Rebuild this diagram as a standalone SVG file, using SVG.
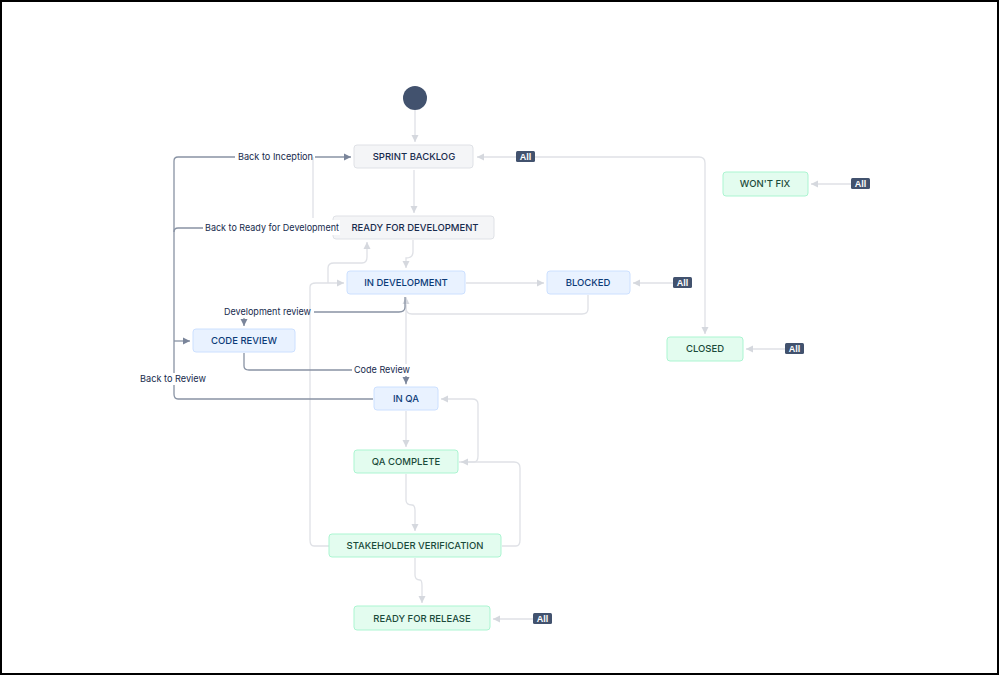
<svg xmlns="http://www.w3.org/2000/svg" width="999" height="675" viewBox="0 0 999 675">
<defs>
<marker id="al" markerWidth="8" markerHeight="8" refX="7" refY="4" orient="auto" markerUnits="userSpaceOnUse"><path d="M0,0.5 L7,4 L0,7.5 Z" fill="#d5d8de"/></marker>
<marker id="ad" markerWidth="8" markerHeight="8" refX="7" refY="4" orient="auto" markerUnits="userSpaceOnUse"><path d="M0,0.5 L7,4 L0,7.5 Z" fill="#7a859a"/></marker>
<style>
.g rect{fill:#f4f5f7;stroke:#dfe1e6}
.b rect{fill:#e9f2ff;stroke:#cce0ff}
.gr rect{fill:#e3fcef;stroke:#abf5d1}
.n text{font-family:Inter,"Liberation Sans",Arial,sans-serif;font-size:9.5px;font-weight:500;text-anchor:middle;fill:#172b4d}
.b text{fill:#0c3b78}
.gr text{fill:#1a4a3a}
.l{fill:none;stroke:#dfe1e6;stroke-width:1.3}
.d{fill:none;stroke:#8993a4;stroke-width:1.3}
.t{font-family:Inter,"Liberation Sans",Arial,sans-serif;font-size:9.5px;fill:#172b4d}
.bg{fill:#fff}
.all rect{fill:#42526e}
.all text{font-family:"Liberation Sans",Arial,sans-serif;font-size:9px;font-weight:bold;fill:#fff;text-anchor:middle}
</style>
</defs>
<rect x="1" y="1" width="997" height="673" fill="#fff" stroke="#000" stroke-width="2"/>
<g id="connectors">
<path class="l" d="M415,110 V142" marker-end="url(#al)"/>
<path class="l" d="M414,170 V213" marker-end="url(#al)"/>
<path class="l" d="M413,240 V252 Q413,258 406,258 V268" marker-end="url(#al)"/>
<path class="l" d="M313,218 V157"/>
<path class="l" d="M329,546 H314 Q310,546 310,540 V287 Q310,283 316,283 H344" marker-end="url(#al)"/>
<path class="l" d="M328,283 V268 Q328,263 334,263 H362 Q367,263 367,257 V242" marker-end="url(#al)"/>
<path class="l" d="M466,283 H544" marker-end="url(#al)"/>
<path class="l" d="M588,295 V309 Q588,314 582,314 H412 Q406,314 406,308 V297" marker-end="url(#al)"/>
<path class="l" d="M406,305 V385"/>
<path class="l" d="M406,411 V447" marker-end="url(#al)"/>
<path class="l" d="M459,462 H474 Q478,462 478,456 V404 Q478,399 472,399 H441" marker-end="url(#al)"/>
<path class="l" d="M406,474 V500 Q406,505 412,505 Q415,505 415,511 V531" marker-end="url(#al)"/>
<path class="l" d="M502,546 H516 Q520,546 520,540 V468 Q520,462 514,462 H461" marker-end="url(#al)"/>
<path class="l" d="M415,558 V575 Q415,580 420,580 Q422,580 422,586 V603" marker-end="url(#al)"/>
<path class="l" d="M516,157 H477" marker-end="url(#al)"/>
<path class="l" d="M534,157 H699 Q705,157 705,163 V334" marker-end="url(#al)"/>
<path class="l" d="M851,184 H811" marker-end="url(#al)"/>
<path class="l" d="M673,283 H633" marker-end="url(#al)"/>
<path class="l" d="M785,349 H746" marker-end="url(#al)"/>
<path class="l" d="M533,619 H493" marker-end="url(#al)"/>
<path class="d" d="M405,297 V307 Q405,312 399,312 H314"/>
<path class="d" d="M244,318 V326" marker-end="url(#ad)"/>
<path class="d" d="M244,353 V366 Q244,370 249,370 H352"/>
<path class="d" d="M411,370 Q406,370 406,375 V384" marker-end="url(#ad)"/>
<path class="d" d="M373,399 H178 Q174,399 174,394 V161 Q174,157 178,157 H235"/>
<path class="d" d="M315,157 H351" marker-end="url(#ad)"/>
<path class="d" d="M174,232 Q174,228 178,228 H203"/>
<path class="d" d="M174,341 H190" marker-end="url(#ad)"/>
</g>
<g id="start"><circle cx="415" cy="98" r="12" fill="#42526e"/></g>
<g id="sprint-backlog" class="n g"><rect x="354" y="145" width="119" height="23" rx="3"/><text x="414" y="160">SPRINT BACKLOG</text></g>
<g id="ready-for-development" class="n g"><rect x="333" y="216" width="161" height="23" rx="3"/><text x="415" y="231">READY FOR DEVELOPMENT</text></g>
<g id="in-development" class="n b"><rect x="347" y="271" width="118" height="23" rx="3"/><text x="406" y="286">IN DEVELOPMENT</text></g>
<g id="blocked" class="n b"><rect x="547" y="271" width="83" height="23" rx="3"/><text x="588" y="286">BLOCKED</text></g>
<g id="code-review" class="n b"><rect x="193" y="329" width="102" height="23" rx="3"/><text x="244" y="344">CODE REVIEW</text></g>
<g id="in-qa" class="n b"><rect x="374" y="387" width="64" height="23" rx="3"/><text x="406" y="402">IN QA</text></g>
<g id="qa-complete" class="n gr"><rect x="354" y="450" width="104" height="23" rx="3"/><text x="406" y="465">QA COMPLETE</text></g>
<g id="stakeholder-verification" class="n gr"><rect x="329" y="534" width="172" height="23" rx="3"/><text x="415" y="549">STAKEHOLDER VERIFICATION</text></g>
<g id="ready-for-release" class="n gr"><rect x="354" y="606" width="136" height="24" rx="3"/><text x="422" y="622">READY FOR RELEASE</text></g>
<g id="wont-fix" class="n gr"><rect x="723" y="172" width="85" height="24" rx="3"/><text x="765" y="187">WON'T FIX</text></g>
<g id="closed" class="n gr"><rect x="667" y="337" width="76" height="24" rx="3"/><text x="705" y="352">CLOSED</text></g>
<g id="all-1" class="all"><rect x="516" y="151" width="19" height="11" rx="1.5"/><text x="525.5" y="160">All</text></g>
<g id="all-2" class="all"><rect x="851" y="178" width="19" height="11" rx="1.5"/><text x="860.5" y="187">All</text></g>
<g id="all-3" class="all"><rect x="673" y="277" width="19" height="11" rx="1.5"/><text x="682.5" y="286">All</text></g>
<g id="all-4" class="all"><rect x="785" y="343" width="19" height="11" rx="1.5"/><text x="794.5" y="352">All</text></g>
<g id="all-5" class="all"><rect x="533" y="613" width="19" height="11" rx="1.5"/><text x="542.5" y="622">All</text></g>
<g id="labels">
<text class="t" x="238" y="160" textLength="75" lengthAdjust="spacingAndGlyphs">Back to Inception</text>
<rect class="bg" x="203" y="220" width="137" height="15"/>
<text class="t" x="205" y="231" textLength="134" lengthAdjust="spacingAndGlyphs">Back to Ready for Development</text>
<text class="t" x="224" y="315" textLength="87" lengthAdjust="spacingAndGlyphs">Development review</text>
<rect class="bg" x="353" y="364" width="58" height="12"/>
<text class="t" x="354" y="373" textLength="56" lengthAdjust="spacingAndGlyphs">Code Review</text>
<rect class="bg" x="139" y="373" width="68" height="12"/>
<text class="t" x="140" y="382" textLength="66" lengthAdjust="spacingAndGlyphs">Back to Review</text>
</g>
</svg>
